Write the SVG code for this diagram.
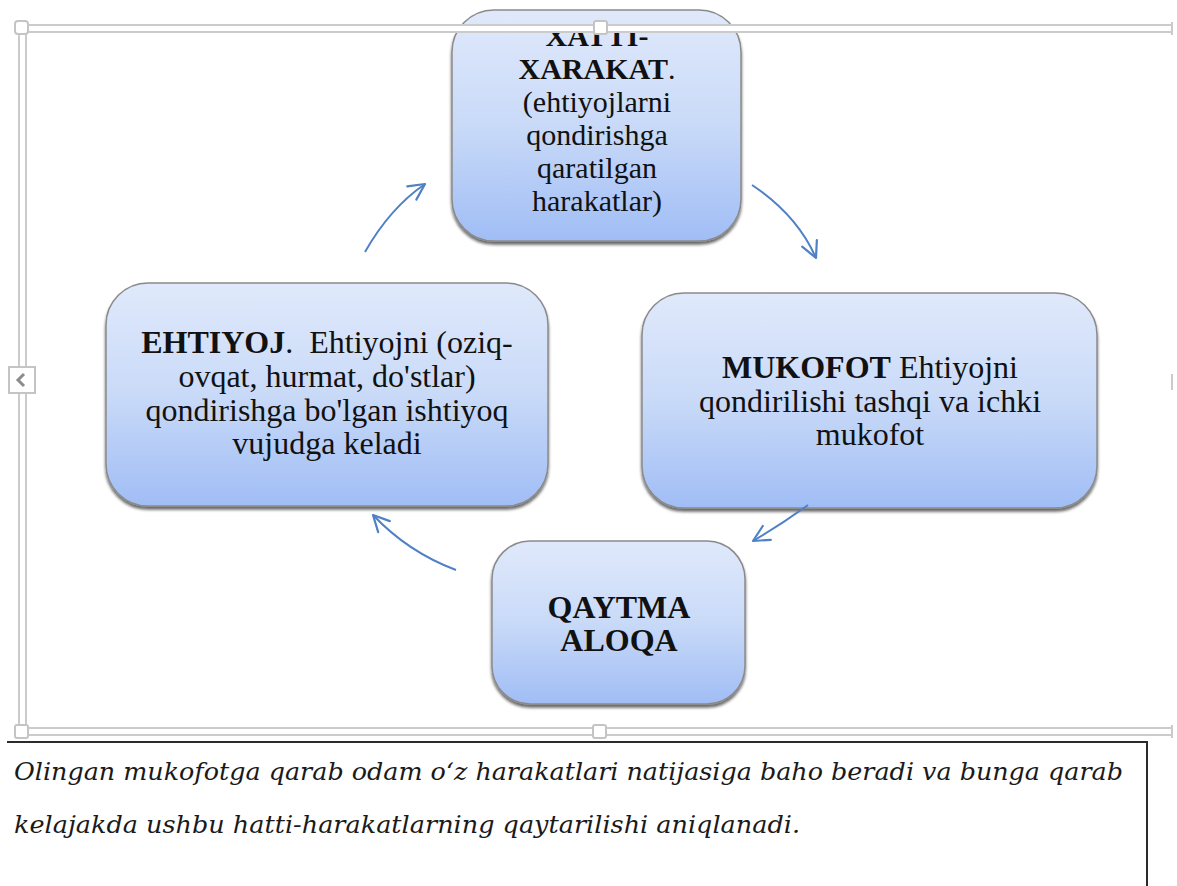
<svg xmlns="http://www.w3.org/2000/svg" width="1177" height="886" viewBox="0 0 1177 886">
  <style>
    .frame { fill: none; stroke: #cbcbcb; stroke-width: 2; }
    .handle { fill: #ffffff; stroke: #c4c4c4; stroke-width: 2; }
    .node { fill: url(#nodeFill); stroke: #8a8a8a; stroke-width: 1.5; filter: url(#shadow); }
    .label { font-family: "Liberation Serif", "Times New Roman", serif; font-size: 30px; fill: #111111; text-anchor: middle; white-space: pre; }
    .wide { font-size: 32px; }
    .b { font-weight: bold; }
    .link { fill: none; stroke: #4f81c4; stroke-width: 2; marker-end: url(#arrow); }
    .note { font-family: "DejaVu Serif", "Liberation Serif", serif; font-style: italic; font-size: 25px; fill: #1a1a1a; }
  </style>
  <defs>
    <linearGradient id="nodeFill" x1="0" y1="0" x2="0" y2="1">
      <stop offset="0" stop-color="#e0e9fb"/>
      <stop offset="0.5" stop-color="#c9daf8"/>
      <stop offset="1" stop-color="#a0bdf5"/>
    </linearGradient>
    <filter id="shadow" x="-5%" y="-5%" width="110%" height="115%">
      <feGaussianBlur in="SourceAlpha" stdDeviation="1.5"/>
      <feOffset dy="3" result="s"/>
      <feComponentTransfer><feFuncA type="linear" slope="0.6"/></feComponentTransfer>
      <feMerge><feMergeNode/><feMergeNode in="SourceGraphic"/></feMerge>
    </filter>
    <marker id="arrow" viewBox="0 0 20 20" refX="18" refY="10" markerWidth="20" markerHeight="20" markerUnits="userSpaceOnUse" orient="auto">
      <path d="M2,2 L18,10 L2,18" fill="none" stroke="#4f81c4" stroke-width="2.2" stroke-linecap="round" stroke-linejoin="round"/>
    </marker>
  </defs>

  <rect width="1177" height="886" fill="#ffffff"/>

  <!-- nodes -->
  <g id="node-xatti">
    <rect class="node" x="452" y="10" width="289" height="231" rx="42"/>
    <text class="label" x="597" y="46"><tspan class="b">XATTI-</tspan></text>
    <text class="label" x="597" y="79"><tspan class="b">XARAKAT</tspan>.</text>
    <text class="label" x="597" y="112">(ehtiyojlarni</text>
    <text class="label" x="597" y="145">qondirishga</text>
    <text class="label" x="597" y="178">qaratilgan</text>
    <text class="label" x="597" y="211">harakatlar)</text>
  </g>

  <g id="node-ehtiyoj">
    <rect class="node" x="106" y="283" width="442" height="223" rx="42"/>
    <text class="label wide" x="327" y="353"><tspan class="b">EHTIYOJ</tspan>.  Ehtiyojni (oziq-</text>
    <text class="label wide" x="327" y="387">ovqat, hurmat, do'stlar)</text>
    <text class="label wide" x="327" y="421">qondirishga bo'lgan ishtiyoq</text>
    <text class="label wide" x="327" y="454">vujudga keladi</text>
  </g>

  <g id="node-mukofot">
    <rect class="node" x="642" y="293" width="455" height="215" rx="42"/>
    <text class="label wide" x="870" y="378"><tspan class="b">MUKOFOT</tspan> Ehtiyojni</text>
    <text class="label wide" x="870" y="412">qondirilishi tashqi va ichki</text>
    <text class="label wide" x="870" y="445">mukofot</text>
  </g>

  <g id="node-qaytma">
    <rect class="node" x="492" y="541" width="253" height="163" rx="38"/>
    <text class="label wide b" x="619" y="618">QAYTMA</text>
    <text class="label wide b" x="619" y="651">ALOQA</text>
  </g>

  <!-- connectors -->
  <g id="connectors">
    <path class="link" d="M365,252 Q390,208 425,184"/>
    <path class="link" d="M752,185 Q797,215 816,258"/>
    <path class="link" d="M808,505 Q782,524 753,541"/>
    <path class="link" d="M456,570 Q408,552 373,515"/>
  </g>

  <!-- canvas selection frame -->
  <g id="frame">
    <rect x="19" y="25" width="1170" height="7" fill="#ffffff"/>
    <line class="frame" x1="19" y1="25" x2="1172" y2="25"/>
    <line class="frame" x1="26" y1="32" x2="1172" y2="32"/>
    <line class="frame" x1="1172" y1="22" x2="1172" y2="35"/>
    <line class="frame" x1="19" y1="25" x2="19" y2="735"/>
    <line class="frame" x1="26" y1="32" x2="26" y2="728"/>
    <line class="frame" x1="26" y1="728" x2="1172" y2="728"/>
    <line class="frame" x1="19" y1="735" x2="1172" y2="735"/>
    <line class="frame" x1="1172" y1="725" x2="1172" y2="738"/>
    <line class="frame" x1="1172" y1="374" x2="1172" y2="390"/>
    <rect class="handle" x="15" y="21" width="13" height="13" rx="3"/>
    <rect class="handle" x="594" y="21" width="13" height="13" rx="2"/>
    <rect class="handle" x="15" y="725" width="13" height="13" rx="2"/>
    <rect class="handle" x="593" y="725" width="13" height="13" rx="2"/>
    <rect class="handle" x="9" y="367" width="26" height="26"/>
    <path d="M24,374 L18,380 L24,386" fill="none" stroke="#8c8c8c" stroke-width="3"/>
  </g>

  <!-- caption box -->
  <g id="caption">
    <path d="M7,742 H1147 V886" fill="none" stroke="#2b2b2b" stroke-width="2"/>
    <text class="note" x="14" y="780" textLength="1109" lengthAdjust="spacingAndGlyphs">Olingan mukofotga qarab odam o‘z harakatlari natijasiga baho beradi va bunga qarab</text>
    <text class="note" x="14" y="833" textLength="786" lengthAdjust="spacingAndGlyphs">kelajakda ushbu hatti-harakatlarning qaytarilishi aniqlanadi.</text>
  </g>
</svg>
